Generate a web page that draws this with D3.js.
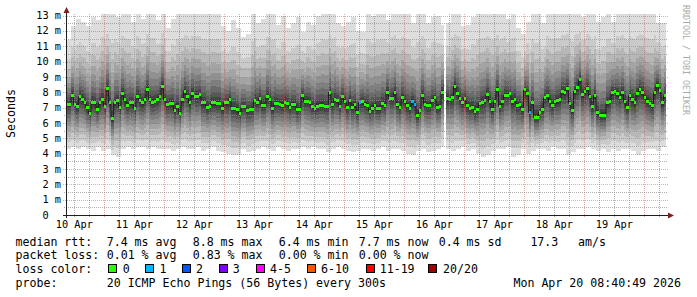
<!DOCTYPE html>
<html><head><meta charset="utf-8">
<script src="https://cdn.jsdelivr.net/npm/d3@7"></script>
<style>
html,body{margin:0;padding:0;background:#fff;}
svg{display:block;}
text{font-family:"DejaVu Sans Mono",monospace;fill:#000;}
</style></head><body>
<svg id="c" width="697" height="297"></svg>
<script>
// ---------- data (hourly median RTT in ms, 240 steps) ----------
const median = [
7.2,7.2,7.8,7.2,7.1,7.7,7.55,7.35,7.0,6.6,
7.35,7.3,6.9,7.3,7.55,7.1,8.25,7.3,6.3,7.3,
7.45,7.0,7.9,7.5,7.15,7.3,7.3,6.95,7.75,7.45,
7.3,7.5,8.2,7.5,7.35,7.4,7.55,7.75,8.4,7.5,
7.2,7.25,7.25,6.8,7.1,6.6,7.5,8.05,7.75,7.3,
7.9,7.75,7.75,7.85,7.3,7.3,7.0,7.1,7.3,7.3,
7.27,7.27,6.97,7.3,7.3,7.53,6.96,6.96,6.85,6.6,
7.05,7.05,6.8,6.85,6.85,7.48,7.35,7.62,7.14,7.14,
7.7,7.53,6.97,7.27,7.27,7.2,7.16,7.35,7.27,7.03,
7.2,7.2,6.86,6.86,7.77,7.42,7.42,7.3,7.08,6.92,
7.1,7.16,7.16,7.08,7.08,7.99,7.2,7.55,7.44,7.08,
7.7,7.4,7.0,7.46,7.03,7.18,6.7,7.33,7.38,7.2,
7.12,6.77,6.96,7.16,6.96,6.96,7.25,7.12,8.01,7.6,
7.6,7.97,7.23,7.0,7.64,7.38,7.12,6.97,7.38,7.18,
6.46,6.81,7.79,7.23,7.14,7.14,7.47,7.66,7.03,7.08,
8.01,null,7.58,7.53,7.64,8.38,7.95,7.6,7.33,7.6,
7.12,6.96,7.0,6.73,6.9,7.27,7.35,7.44,7.88,7.38,
6.9,7.38,8.17,7.08,7.38,7.81,7.81,7.9,7.4,7.55,
7.16,7.2,6.85,8.15,7.9,6.68,7.3,6.36,6.36,6.7,
6.9,7.64,7.77,7.42,7.12,7.38,7.44,7.5,8.03,7.99,
8.23,7.27,6.81,8.07,8.32,8.8,7.84,8.03,8.27,7.75,
7.08,7.79,6.68,6.49,6.49,6.49,7.3,7.42,7.99,8.03,
7.9,7.68,7.99,7.38,7.0,7.79,7.5,7.31,7.92,8.2,
8.01,7.68,7.42,7.27,7.14,7.99,8.47,8.1,7.31,7.77
];
// smoke envelope (slowest / fastest ping), one value per 2-hour bin
const smokeHi = [
11.4,12.3,12.8,12.6,12.3,12.9,12.7,13.3,13.3,13.3,
12.9,13.3,13.3,12.6,13.3,12.8,13.3,13.3,12.7,13.3,
12.2,12.8,13.3,13.3,13.3,13.3,13.3,13.3,13.3,13.3,
13.3,12.3,12.0,12.7,12.2,11.6,11.8,13.3,12.5,12.8,
13.3,13.3,12.4,13.0,12.2,12.5,12.9,11.9,12.6,12.4,
13.0,13.3,13.3,13.3,12.5,12.3,12.6,12.9,12.0,11.9,
13.3,13.0,13.3,13.3,12.7,13.3,13.3,13.3,13.3,12.5,
13.3,13.3,12.5,12.9,13.0,12.4,12.5,13.3,13.3,12.3,
12.4,12.9,13.3,13.3,13.3,13.3,13.3,13.3,12.8,13.3,
12.2,11.8,12.6,13.3,13.3,12.5,13.3,13.3,13.3,13.3,
13.3,13.3,13.3,12.9,13.3,13.3,12.6,12.9,13.3,12.6,
13.3,13.3,13.3,13.3,13.3,13.3,13.3,13.3,12.5,12.5
];
const smokeLo = [
4.3,4.4,4.3,4.4,4.3,4.2,4.4,4.2,4.3,3.9,
3.8,4.3,4.4,4.3,4.4,4.4,4.3,4.4,4.3,4.3,
4.3,4.2,4.3,4.4,4.3,4.3,4.4,4.2,4.3,4.4,
4.2,4.1,4.0,3.9,3.9,4.3,4.1,4.2,4.3,4.4,
4.3,4.2,4.4,4.3,4.2,4.3,4.3,4.4,4.3,4.4,
4.3,4.3,4.1,4.3,4.4,4.3,4.2,4.1,4.2,4.3,
4.3,4.2,4.3,4.4,4.2,4.3,4.3,4.2,4.0,3.9,
4.2,4.3,4.1,4.2,4.3,4.4,4.3,4.2,4.3,4.4,
4.2,4.3,4.0,3.8,3.9,4.2,4.3,4.3,4.4,3.8,
3.9,4.3,4.0,4.2,4.3,4.3,4.2,4.4,4.3,4.3,
3.9,4.1,4.3,4.3,4.4,4.3,4.2,4.3,4.1,4.3,
4.2,4.3,4.3,4.2,3.9,4.2,4.3,4.3,4.2,4.4
];
// relative position of the 10 smoke layers (outer -> inner) and their grey level
const smokeUp = [1,0.70,0.55,0.43,0.33,0.25,0.18,0.12,0.07,0.03];
const smokeDn = [1,0.85,0.72,0.60,0.49,0.39,0.30,0.21,0.13,0.06];
const smokeGray = [221,202,183,164,145,126,107,88,69,50];
// steps with packet loss
const lossSteps = [117,138,139,185];
const lossCounts = [1,1,1,1];
const lossLabels = ["0","1","2","3","4-5","6-10","11-19","20/20"];
const lossColors = ["#26ff00","#00b8ff","#0059ff","#7e00ff","#ff00ff","#ff5500","#ff0000","#a10000"];
// axes
const dayLabels = ["10 Apr","11 Apr","12 Apr","13 Apr","14 Apr","15 Apr","16 Apr","17 Apr","18 Apr","19 Apr"];
const yTickValues = [0,1,2,3,4,5,6,7,8,9,10,11,12,13];
const yTickLabels = ["0","1 m","2 m","3 m","4 m","5 m","6 m","7 m","8 m","9 m","10 m","11 m","12 m","13 m"];
// legend texts
const rttStats = ["7.4 ms avg","8.8 ms max","6.4 ms min","7.7 ms now","0.4 ms sd"];
const lossStats = ["0.01 % avg","0.83 % max","0.00 % min","0.00 % now"];
const amValue = "17.3";
const probeText = "20 ICMP Echo Pings (56 Bytes) every 300s";
const dateText = "Mon Apr 20 08:40:49 2026";

// ---------- drawing ----------
const svg = d3.select("#c");
const H = 3600e3;
const t0 = Date.UTC(2026,3,10,8,40), t1 = Date.UTC(2026,3,20,8,40);
const x = d3.scaleUtc().domain([new Date(t0), new Date(t1)]).range([66,666]);
const y = d3.scaleLinear().domain([0,13.1]).range([215,14]);
const sx = i => x(new Date(t0 + i*H));

svg.append("defs").append("clipPath").attr("id","plot")
  .append("rect").attr("x",66).attr("y",14).attr("width",601).attr("height",201);

// smoke
const steps = median.map((m,i)=>({i,m})).filter(d=>d.m!=null);
const layers = [];
steps.forEach(d=>{
  const b = Math.floor(d.i/2), lo = smokeLo[b], hi = smokeHi[b];
  smokeGray.forEach((g,k)=>{
    layers.push({x0:sx(d.i), x1:sx(d.i+1), top:d.m+(hi-d.m)*smokeUp[k], bot:d.m-(d.m-lo)*smokeDn[k], g});
  });
});
svg.append("g").attr("clip-path","url(#plot)").attr("shape-rendering","crispEdges")
  .selectAll("rect").data(layers).join("rect")
  .attr("x",d=>d.x0).attr("width",d=>d.x1-d.x0)
  .attr("y",d=>y(d.top)).attr("height",d=>y(d.bot)-y(d.top))
  .attr("fill",d=>`rgb(${d.g},${d.g},${d.g})`);

// grid (dotted, drawn over the smoke)
const grid = svg.append("g").attr("fill","none").attr("stroke-width",1);
const minorColor = "rgba(143,143,143,0.7)", majorColor = "rgba(222,80,80,0.5)";
const minorY = d3.range(0.5,13.1,1);
const days = d3.utcDay.range(new Date(t0), new Date(t1));
const six = d3.utcHour.every(6).range(new Date(t0), new Date(t1)).filter(d=>d.getUTCHours()!==0);
const hPath = (x1,x2,yy) => `M${x1},${yy}H${x2}`;
const vPath = (xx,y1,y2) => `M${xx},${y1}V${y2}`;
grid.selectAll("path.my").data(minorY).join("path").attr("class","my")
  .attr("d",d=>hPath(64,668,Math.round(y(d))+0.5)).attr("stroke",minorColor).attr("stroke-dasharray","1 1");
grid.selectAll("path.mx").data(six).join("path").attr("class","mx")
  .attr("d",d=>vPath(Math.round(x(d))+0.5,14,217)).attr("stroke",minorColor).attr("stroke-dasharray","1 1");
grid.selectAll("path.My").data(yTickValues.filter(v=>v>0)).join("path").attr("class","My")
  .attr("d",d=>hPath(63,669,Math.round(y(d))+0.5)).attr("stroke",majorColor).attr("stroke-dasharray","1 1");
grid.selectAll("path.Mx").data(days).join("path").attr("class","Mx")
  .attr("d",d=>vPath(Math.round(x(d))+0.5,14,218)).attr("stroke",majorColor).attr("stroke-dasharray","1 1");

// median line
const pts = median.map((m,i)=>({i,m})).concat([{i:median.length, m:median[median.length-1]}]);
svg.append("path").attr("clip-path","url(#plot)")
  .attr("d", d3.line().defined(d=>d.m!=null).curve(d3.curveStepAfter).x(d=>sx(d.i)).y(d=>y(d.m))(pts))
  .attr("fill","none").attr("stroke","#202020").attr("stroke-width",1);
const lossOf = i => { const k = lossSteps.indexOf(i); return k<0 ? 0 : lossCounts[k]; };
const bucket = c => c===0?0:c===1?1:c===2?2:c===3?3:c<=5?4:c<=10?5:c<=19?6:7;
svg.append("g").attr("shape-rendering","crispEdges").selectAll("rect").data(steps).join("rect")
  .attr("x",d=>sx(d.i)).attr("width",d=>sx(d.i+1)-sx(d.i))
  .attr("y",d=>y(d.m)-1.5).attr("height",3)
  .attr("fill",d=>lossColors[bucket(lossOf(d.i))]);

// axes
svg.append("line").attr("x1",63).attr("x2",669).attr("y1",215.5).attr("y2",215.5).attr("stroke","#1f1f1f").attr("shape-rendering","crispEdges");
svg.append("line").attr("x1",66.5).attr("x2",66.5).attr("y1",218).attr("y2",11).attr("stroke","#1f1f1f").attr("shape-rendering","crispEdges");
svg.append("path").attr("d","M668,212.5L674,215.5L668,218.5Z").attr("fill","#801f1f");
svg.append("path").attr("d","M63.5,13L66.5,7L69.5,13Z").attr("fill","#801f1f");

// axis labels
svg.append("g").selectAll("text").data(yTickValues).join("text")
  .attr("x",(d,i)=>yTickLabels[i]==="0"?48.6:61).attr("y",d=>y(d)+3.6)
  .attr("text-anchor","end").attr("font-size","10.3px").text((d,i)=>yTickLabels[i]);
svg.append("g").selectAll("text").data(dayLabels).join("text")
  .attr("x",(d,i)=>x(new Date(days[0].getTime() - 12*H + i*24*H))).attr("y",227.6)
  .attr("text-anchor","middle").attr("font-size","10.3px").text(d=>d);
svg.append("text").attr("transform","translate(15,113.5) rotate(-90)").attr("text-anchor","middle")
  .attr("font-size","11.6px").text("Seconds");
svg.append("text").attr("transform","translate(683,5) rotate(90)").attr("font-size","8.3px")
  .style("fill","#aaaaaa").text("RRDTOOL / TOBI OETIKER");

// legend
const fs = "11.6px";
const leg = svg.append("g").attr("font-size",fs).style("white-space","pre");
const rows = [245.5,259.3,273,286.8];
leg.append("text").attr("x",15.5).attr("y",rows[0]).text("median rtt:");
leg.selectAll("text.r").data(rttStats).join("text").attr("class","r")
  .attr("x",(d,i)=>[106.7,192.7,278.7,358.7,438.7][i]).attr("y",rows[0]).text(d=>d);
leg.append("text").attr("x",530.4).attr("y",rows[0]).text(amValue);
leg.append("text").attr("x",578).attr("y",rows[0]).text("am/s");
leg.append("text").attr("x",15.5).attr("y",rows[1]).text("packet loss:");
leg.selectAll("text.l").data(lossStats).join("text").attr("class","l")
  .attr("x",(d,i)=>[106.7,192.7,278.7,358.7][i]).attr("y",rows[1]).text(d=>d);
leg.append("text").attr("x",15.5).attr("y",rows[2]).text("loss color:");
const boxX = [108.5,145.5,182.5,219.5,256.5,307.5,366.5,428.5];
const labX = [122.7,159.4,196.1,232.7,270.1,321.1,379.7,443.1];
leg.selectAll("rect").data(lossColors).join("rect")
  .attr("x",(d,i)=>boxX[i]).attr("y",264.5).attr("width",8).attr("height",8)
  .attr("fill",d=>d).attr("stroke","#000").attr("shape-rendering","crispEdges");
leg.selectAll("text.c").data(lossLabels).join("text").attr("class","c")
  .attr("x",(d,i)=>labX[i]).attr("y",rows[2]).text(d=>d);
leg.append("text").attr("x",15.5).attr("y",rows[3]).text("probe:");
leg.append("text").attr("x",106.7).attr("y",rows[3]).text(probeText);
leg.append("text").attr("x",681).attr("y",rows[3]).attr("text-anchor","end").text(dateText);
</script>
</body></html>
